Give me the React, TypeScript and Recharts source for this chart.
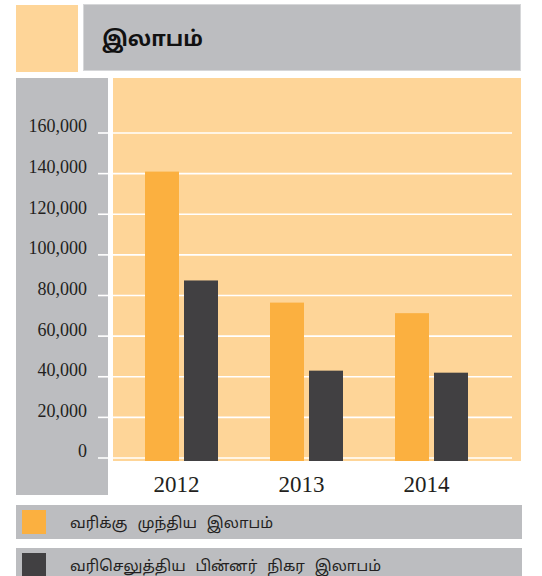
import React from 'react';
import { BarChart, Bar, XAxis, YAxis, CartesianGrid, Legend } from 'recharts';

const years = ['2012', '2013', '2014'];
const profitBeforeTax = [141000, 76500, 71300];
const profitAfterTax = [87400, 43000, 42000];
const yTicks = [0, 20000, 40000, 60000, 80000, 100000, 120000, 140000, 160000];
const titleText = 'இலாபம்';
const seriesNames = ['வரிக்கு முந்திய இலாபம்', 'வரிசெலுத்திய பின்னர் நிகர இலாபம்'];
const seriesColors = ['#FBB040', '#414042'];

const data = years.map((y, i) => ({
  year: y,
  before: profitBeforeTax[i],
  after: profitAfterTax[i],
}));

const GRAY = '#BCBDC0';
const LIGHT = '#FED598';
const SERIF = '"Liberation Serif", "Times New Roman", serif';
const TAMIL = '"Noto Sans", "Noto Sans Tamil", "Lohit Tamil", sans-serif';

const BarShape = (props: any) => {
  const { x, y, width, height, fill } = props;
  if (height == null || height <= 0) return null;
  return <rect x={x} y={y} width={width} height={height + 3} fill={fill} />;
};

const renderLegend = (props: any) => {
  const payload = props.payload || [];
  return (
    <div style={{ position: 'relative', width: 506, height: 0 }}>
      {payload.map((p: any, i: number) => (
        <div
          key={i}
          style={{
            position: 'absolute',
            left: 0,
            top: i * 43,
            width: 506,
            height: 34,
            background: GRAY,
          }}
        >
          <div
            style={{
              position: 'absolute',
              left: 6,
              top: 5,
              width: 24,
              height: 24,
              background: p.color,
            }}
          />
          <div
            style={{
              position: 'absolute',
              left: 54,
              top: 0,
              height: 34,
              lineHeight: '34px',
              fontFamily: TAMIL,
              fontSize: 15,
              wordSpacing: '6px',
              color: '#231F20',
              whiteSpace: 'nowrap',
            }}
          >
            {p.value}
          </div>
        </div>
      ))}
    </div>
  );
};

export default function App() {
  return (
    <div style={{ position: 'absolute', left: 0, top: 0, width: 542, height: 576, background: '#fff', overflow: 'hidden' }}>
      <div style={{ position: 'absolute', left: 16, top: 5, width: 62, height: 67, background: LIGHT }} />
      <div
        style={{
          position: 'absolute',
          left: 83,
          top: 4,
          width: 438,
          height: 67,
          background: GRAY,
          border: '1px solid #D6D7D9',
          boxSizing: 'border-box',
        }}
      />
      <div
        style={{
          position: 'absolute',
          left: 102,
          top: 5,
          height: 67,
          lineHeight: '67px',
          fontFamily: TAMIL,
          fontWeight: 'bold',
          fontSize: 21,
          color: '#111',
        }}
      >
        {titleText}
      </div>
      <div style={{ position: 'absolute', left: 16, top: 78, width: 92, height: 417, background: GRAY }} />
      <div style={{ position: 'absolute', left: 113, top: 78, width: 408, height: 383, background: LIGHT }} />
      <div style={{ position: 'absolute', left: 0, top: 0 }}>
        <BarChart
          width={542}
          height={576}
          data={data}
          margin={{ top: 133, right: 30, left: 0, bottom: 78 }}
          barSize={34}
          barGap={5}
        >
          <CartesianGrid horizontal={true} vertical={false} stroke="#FFFFFF" strokeWidth={1.6} />
          <XAxis
            dataKey="year"
            height={40}
            axisLine={false}
            tickLine={false}
            tickSize={0}
            tickMargin={18}
            padding={{ left: 6, right: 18 }}
            tick={{ fontFamily: SERIF, fontSize: 23, fill: '#231F20', dx: -5 }}
            interval={0}
          />
          <YAxis
            width={113}
            domain={[0, 160000]}
            ticks={yTicks}
            interval={0}
            axisLine={false}
            tickSize={15}
            tickMargin={11}
            tickLine={{ stroke: '#FFFFFF', strokeWidth: 1.6 }}
            tick={{ fontFamily: SERIF, fontSize: 18, fill: '#231F20', dy: -7 }}
            tickFormatter={(v: number) => v.toLocaleString('en-US')}
          />
          <Legend
            content={renderLegend}
            wrapperStyle={{ position: 'absolute', left: 16, top: 505, width: 506, height: 0 }}
          />
          <Bar dataKey="before" name={seriesNames[0]} fill={seriesColors[0]} shape={BarShape} isAnimationActive={false} />
          <Bar dataKey="after" name={seriesNames[1]} fill={seriesColors[1]} shape={BarShape} isAnimationActive={false} />
        </BarChart>
      </div>
    </div>
  );
}
